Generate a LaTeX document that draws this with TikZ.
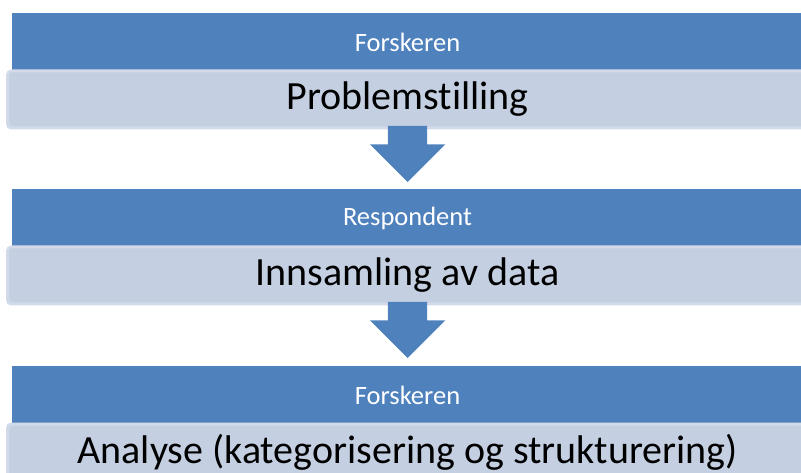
\documentclass[tikz,border=0pt]{standalone}
\usepackage{fontspec}
\setmainfont{Carlito}[Ligatures=NoCommon]
\usetikzlibrary{positioning,shapes.arrows}

\definecolor{barblue}{HTML}{4F81BD}
\definecolor{paleblue}{HTML}{C4CFE2}
\definecolor{edgeblue}{HTML}{D2DAE9}

\tikzset{
  rolebar/.style={fill=barblue, text=white, minimum width=792pt, minimum height=58pt,
    inner sep=0pt, outer sep=0pt, font=\fontsize{26.5}{30}\selectfont},
  taskbar/.style={fill=paleblue, draw=edgeblue, line width=3pt, rounded corners=4pt,
    minimum width=800pt, minimum height=57pt, inner sep=0pt, outer sep=0pt,
    font=\fontsize{40}{46}\selectfont},
  flowarrow/.style={single arrow, fill=barblue, rotate=-90, anchor=tail,
    minimum height=56pt, inner xsep=0pt, inner ysep=19.5pt,
    single arrow head extend=18pt, outer sep=0pt}
}

\begin{document}
\begin{tikzpicture}[x=1pt,y=-1pt]
  \clip (0,0) rectangle (801,473);

  % step 1
  \node[rolebar] (role1) at (407.5,42) {Forskeren};
  \node[taskbar, below=0pt of role1] (task1) {Problemstilling};
  \node[flowarrow] (flow1) at ([yshift=2pt]task1.south) {};

  % step 2
  \node[rolebar] (role2) at (407.5,218) {Respondent};
  \node[taskbar, below=0pt of role2] (task2) {Innsamling av data};
  \node[flowarrow] (flow2) at ([yshift=2pt]task2.south) {};

  % step 3
  \node[rolebar] (role3) at (407.5,395) {Forskeren};
  \node[taskbar, below=0pt of role3] (task3) {Analyse (kategorisering og strukturering)};
\end{tikzpicture}
\end{document}
